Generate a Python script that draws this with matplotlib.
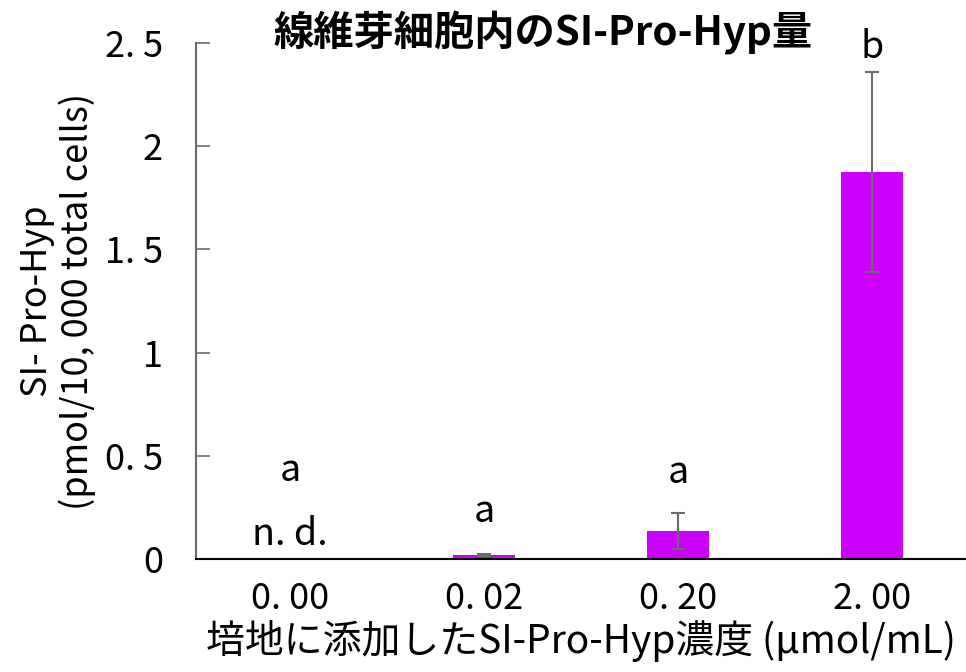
import numpy as np
import matplotlib
matplotlib.use("Agg")
import matplotlib.pyplot as plt

plt.rcParams['font.family'] = ['Noto Sans CJK JP', 'DejaVu Sans']

# data
categories = ['0. 00', '0. 02', '0. 20', '2. 00']
values = [0.0, 0.02, 0.136, 1.875]
errors = [0.0, 0.005, 0.087, 0.485]
letters = ['a', 'a', 'a', 'b']
letter_y = [0.43, 0.23, 0.42, 2.48]
yticks = [0, 0.5, 1, 1.5, 2, 2.5]
ytick_labels = ['0', '0. 5', '1', '1. 5', '2', '2. 5']

fig = plt.figure(figsize=(9.66, 6.72), dpi=100)
ax = fig.add_axes([0.203, 0.168, 0.797, 0.768])

x = np.arange(len(categories))
ax.bar(x, values, width=0.32, color='#CC00FF', zorder=2)
err_idx = [i for i in x if errors[i] > 0]
ax.errorbar(x[err_idx], np.array(values)[err_idx], yerr=np.array(errors)[err_idx],
            fmt='none', ecolor='#6b6b6b', elinewidth=1.5, capsize=5, capthick=1.5, zorder=3)

for i, lab in enumerate(letters):
    ax.text(x[i], letter_y[i], lab, ha='center', va='center', fontsize=27)
ax.text(x[0], 0.12, 'n. d.', ha='center', va='center', fontsize=27)

ax.set_xlim(-0.485, 3.485)
ax.set_ylim(0, 2.5)
ax.set_xticks(x)
ax.set_xticklabels(categories, fontsize=26)
ax.set_yticks(yticks)
ax.set_yticklabels(ytick_labels, fontsize=26)
ax.tick_params(axis='x', length=0, pad=16)
ax.tick_params(axis='y', direction='in', length=10, width=1.2, color='#6b6b6b', pad=24)

ax.spines['top'].set_visible(False)
ax.spines['right'].set_visible(False)
ax.spines['left'].set_color('#6b6b6b')
ax.spines['left'].set_linewidth(1.5)
ax.spines['bottom'].set_color('black')
ax.spines['bottom'].set_linewidth(1.5)

ax.set_xlabel('培地に添加したSI-Pro-Hyp濃度 (μmol/mL)', fontsize=28, labelpad=2)
ax.set_ylabel('SI- Pro-Hyp\n(pmol/10, 000 total cells)', fontsize=26, labelpad=6,
              linespacing=1.15)
fig.text(0.562, 0.953, '線維芽細胞内のSI-Pro-Hyp量', ha='center', va='center',
         fontsize=29, fontweight='bold')

fig.savefig('out.png', dpi=100)
